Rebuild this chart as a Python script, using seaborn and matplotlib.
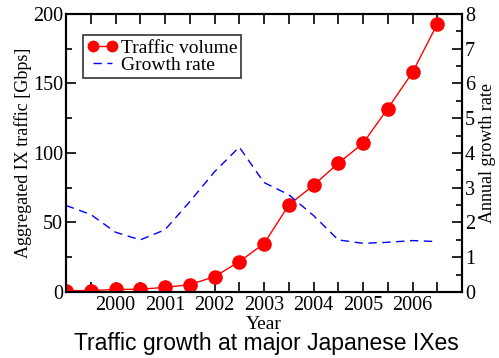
import matplotlib
matplotlib.use("Agg")
import matplotlib.pyplot as plt
from matplotlib.ticker import MultipleLocator
from matplotlib.lines import Line2D
import seaborn as sns
import pandas as pd

# Half-yearly samples
years = [1999.0, 1999.5, 2000.0, 2000.5, 2001.0, 2001.5, 2002.0, 2002.5,
         2003.0, 2003.5, 2004.0, 2004.5, 2005.0, 2005.5, 2006.0, 2006.5]
# Aggregated IX traffic [Gbps]
traffic = [1.0, 1.0, 1.8, 2.0, 3.3, 5.3, 11.0, 21.8,
           34.8, 62.5, 76.8, 92.6, 107.0, 132.0, 158.0, 192.8]
# Annual growth rate
growth = [2.49, 2.23, 1.72, 1.50, 1.79, 2.60, 3.46, 4.17,
          3.15, 2.80, 2.20, 1.50, 1.40, 1.43, 1.48, 1.45]
year_ticks = [2000, 2001, 2002, 2003, 2004, 2005, 2006]

df = pd.DataFrame({"year": years, "traffic": traffic, "growth": growth})

sns.set_style("ticks")
plt.rcParams["font.family"] = ["Liberation Serif", "DejaVu Serif"]
plt.rcParams["text.color"] = "black"
plt.rcParams["axes.labelcolor"] = "black"
plt.rcParams["xtick.color"] = "black"
plt.rcParams["ytick.color"] = "black"

fig = plt.figure(figsize=(4.99, 3.58), dpi=100)
ax = fig.add_axes([0.1323, 0.1844, 0.7936, 0.7765])
ax2 = ax.twinx()

sns.lineplot(data=df, x="year", y="traffic", ax=ax, color="#ff0000",
             linewidth=1.0, marker="o", markersize=10.5, markeredgewidth=0,
             zorder=3)
sns.lineplot(data=df, x="year", y="growth", ax=ax2, color="#0000ff",
             linewidth=1.0, dashes=False, zorder=2)
ax2.lines[0].set_dashes([6, 4])

ax.set_xlim(1999, 2007)
ax.set_ylim(0, 200)
ax2.set_ylim(0, 8)

ax.set_xticks(year_ticks)
ax.set_xticklabels([str(y) for y in year_ticks])
ax.xaxis.set_minor_locator(MultipleLocator(0.5))
ax.yaxis.set_major_locator(MultipleLocator(50))
ax.yaxis.set_minor_locator(MultipleLocator(25))
ax2.yaxis.set_major_locator(MultipleLocator(1))
ax2.yaxis.set_minor_locator(MultipleLocator(0.5))

for a in (ax, ax2):
    for s in a.spines.values():
        s.set_linewidth(1.5)
        s.set_color("black")
        s.set_visible(True)

ax.tick_params(axis="x", which="both", direction="in", top=True, bottom=True,
               length=7, width=1.2, labelsize=14.5, pad=3)
ax.tick_params(axis="y", which="major", direction="in", left=True, right=False,
               length=7, width=1.2, labelsize=14.5, pad=2)
ax.tick_params(axis="y", which="minor", direction="in", left=True, right=False,
               length=4, width=1.2)
ax2.tick_params(axis="y", which="major", direction="in", right=True,
                length=7, width=1.2, labelsize=14.5, pad=2)
ax2.tick_params(axis="y", which="minor", direction="in", right=True,
                length=4, width=1.2)

ax.set_xlabel("Year", fontsize=14, labelpad=0.5)
ax.set_ylabel("Aggregated IX traffic [Gbps]", fontsize=13, labelpad=1)
ax2.set_ylabel("Annual growth rate", fontsize=13, labelpad=3)

handles = [
    Line2D([], [], color="#ff0000", linewidth=1.0, marker="o", markersize=8.5,
           markeredgewidth=0),
    Line2D([], [], color="#0000ff", linewidth=1.0, dashes=[6, 4]),
]
leg = ax.legend(handles, ["Traffic volume", "Growth rate"], loc="upper left",
                bbox_to_anchor=(0.043, 0.924), borderaxespad=0, numpoints=2,
                fontsize=14, frameon=True, fancybox=False, handlelength=1.58,
                handletextpad=0.17, borderpad=0.2, labelspacing=0.0)
leg.get_frame().set_edgecolor("black")
leg.get_frame().set_linewidth(1.2)
leg.set_zorder(5)

fig.text(0.534, 0.0223, "Traffic growth at major Japanese IXes",
         ha="center", va="baseline", fontsize=16.5,
         family=["Liberation Sans", "DejaVu Sans"])

fig.savefig("out.png", dpi=100)
